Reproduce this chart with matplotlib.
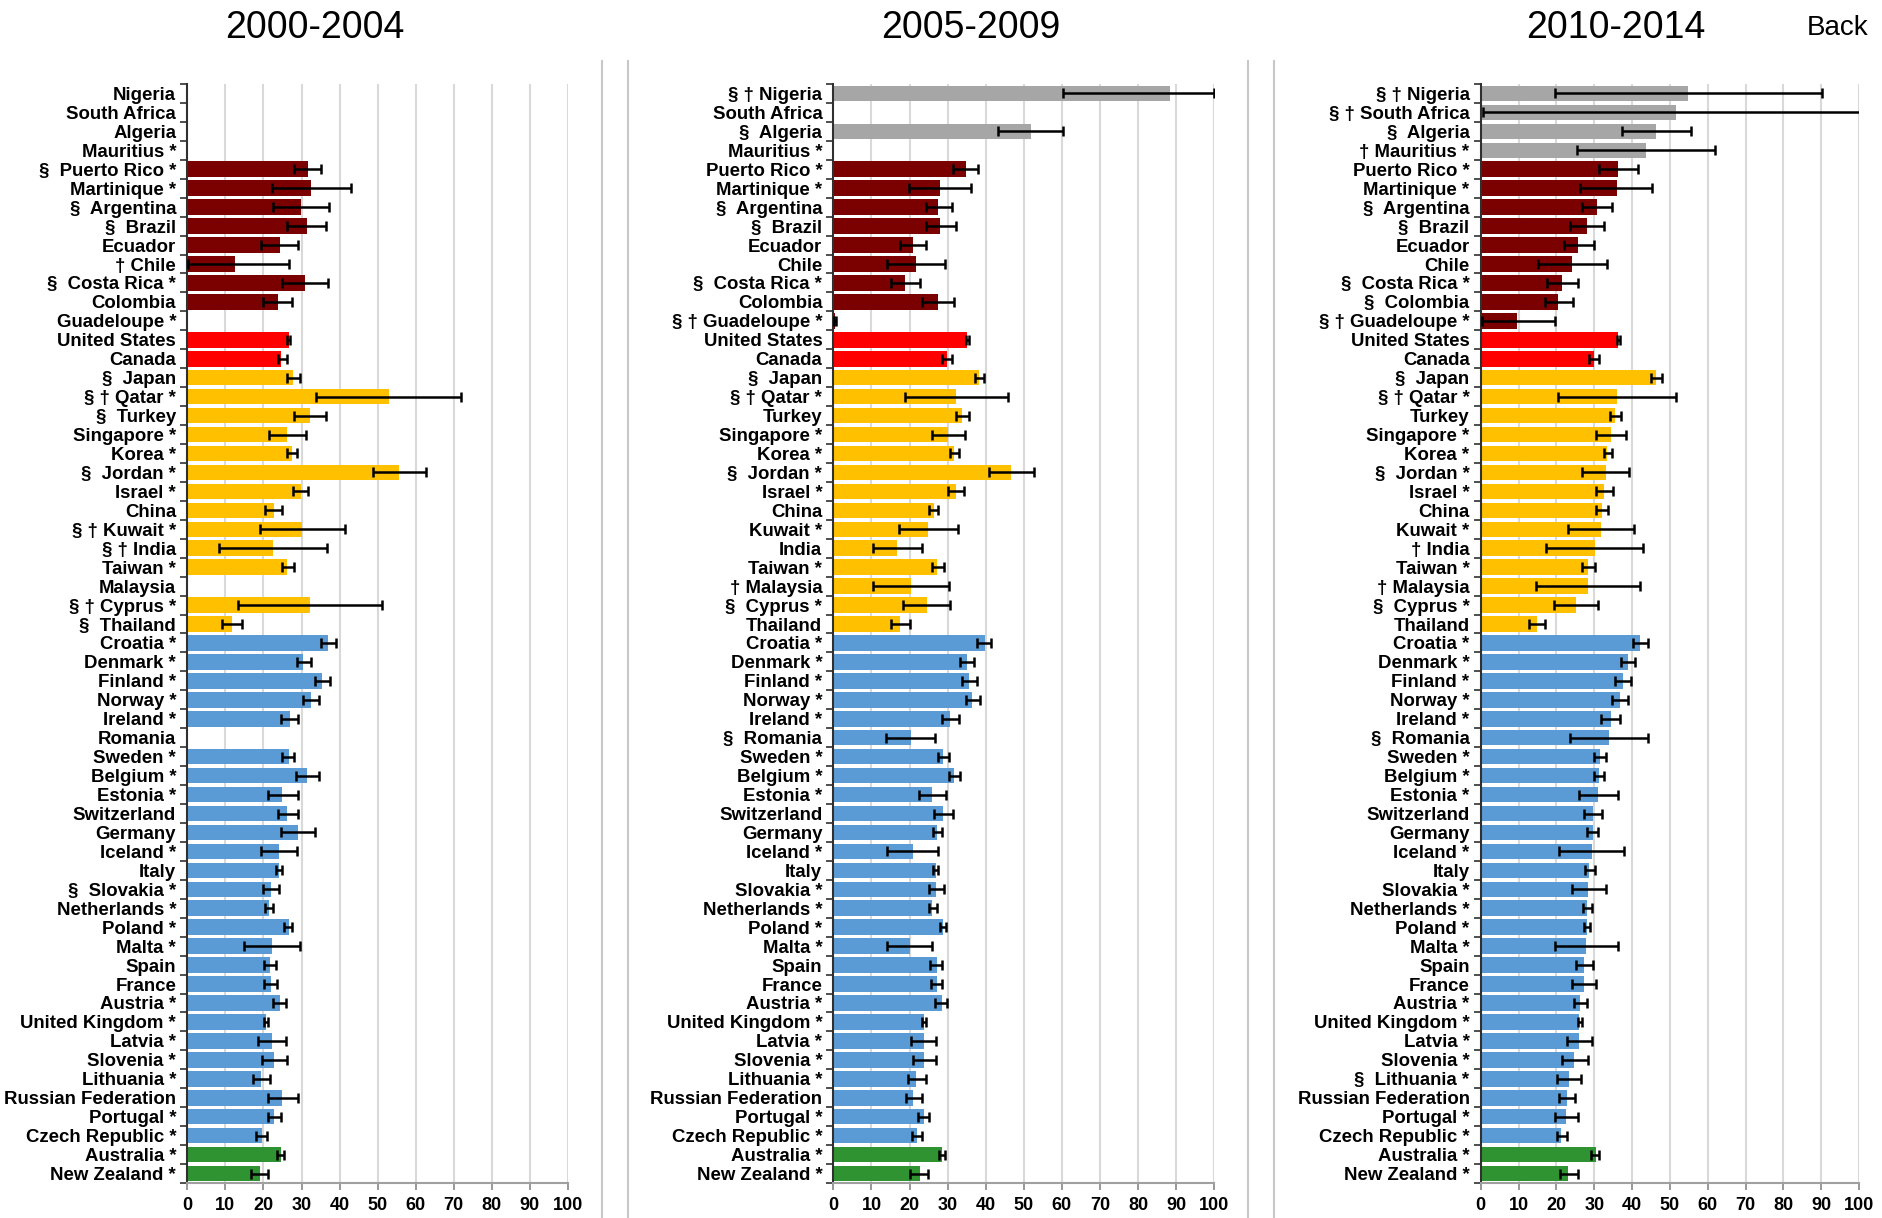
import numpy as np
import matplotlib
matplotlib.use("Agg")
import matplotlib.pyplot as plt
from matplotlib.lines import Line2D

nan = np.nan

labels_2000 = ["Nigeria", "South Africa", "Algeria", "Mauritius *", "§  Puerto Rico *", "Martinique *",
               "§  Argentina", "§  Brazil", "Ecuador", "† Chile", "§  Costa Rica *", "Colombia",
               "Guadeloupe *", "United States", "Canada", "§  Japan", "§ † Qatar *", "§  Turkey",
               "Singapore *", "Korea *", "§  Jordan *", "Israel *", "China", "§ † Kuwait *", "§ † India",
               "Taiwan *", "Malaysia", "§ † Cyprus *", "§  Thailand", "Croatia *", "Denmark *",
               "Finland *", "Norway *", "Ireland *", "Romania", "Sweden *", "Belgium *", "Estonia *",
               "Switzerland", "Germany", "Iceland *", "Italy", "§  Slovakia *", "Netherlands *",
               "Poland *", "Malta *", "Spain", "France", "Austria *", "United Kingdom *", "Latvia *",
               "Slovenia *", "Lithuania *", "Russian Federation", "Portugal *", "Czech Republic *",
               "Australia *", "New Zealand *"]

labels_2005 = ["§ † Nigeria", "South Africa", "§  Algeria", "Mauritius *", "Puerto Rico *", "Martinique *",
               "§  Argentina", "§  Brazil", "Ecuador", "Chile", "§  Costa Rica *", "Colombia",
               "§ † Guadeloupe *", "United States", "Canada", "§  Japan", "§ † Qatar *", "Turkey",
               "Singapore *", "Korea *", "§  Jordan *", "Israel *", "China", "Kuwait *", "India",
               "Taiwan *", "† Malaysia", "§  Cyprus *", "Thailand", "Croatia *", "Denmark *",
               "Finland *", "Norway *", "Ireland *", "§  Romania", "Sweden *", "Belgium *", "Estonia *",
               "Switzerland", "Germany", "Iceland *", "Italy", "Slovakia *", "Netherlands *",
               "Poland *", "Malta *", "Spain", "France", "Austria *", "United Kingdom *", "Latvia *",
               "Slovenia *", "Lithuania *", "Russian Federation", "Portugal *", "Czech Republic *",
               "Australia *", "New Zealand *"]

labels_2010 = ["§ † Nigeria", "§ † South Africa", "§  Algeria", "† Mauritius *", "Puerto Rico *", "Martinique *",
               "§  Argentina", "§  Brazil", "Ecuador", "Chile", "§  Costa Rica *", "§  Colombia",
               "§ † Guadeloupe *", "United States", "Canada", "§  Japan", "§ † Qatar *", "Turkey",
               "Singapore *", "Korea *", "§  Jordan *", "Israel *", "China", "Kuwait *", "† India",
               "Taiwan *", "† Malaysia", "§  Cyprus *", "Thailand", "Croatia *", "Denmark *",
               "Finland *", "Norway *", "Ireland *", "§  Romania", "Sweden *", "Belgium *", "Estonia *",
               "Switzerland", "Germany", "Iceland *", "Italy", "Slovakia *", "Netherlands *",
               "Poland *", "Malta *", "Spain", "France", "Austria *", "United Kingdom *", "Latvia *",
               "Slovenia *", "§  Lithuania *", "Russian Federation", "Portugal *", "Czech Republic *",
               "Australia *", "New Zealand *"]

# region of each row
regions = (["Africa"] * 4 + ["Latin America"] * 9 + ["North America"] * 2 +
           ["Asia"] * 14 + ["Europe"] * 27 + ["Oceania"] * 2)

val_2000 = [nan, nan, nan, nan, 31.8, 32.6, 29.8, 31.4, 24.3, 12.5, 30.9, 23.8, nan, 26.7, 24.7,
            27.8, 52.9, 32.2, 26.1, 27.6, 55.6, 29.9, 22.7, 30.2, 22.5, 26.3, nan, 32.2, 11.8,
            36.9, 30.4, 35.3, 32.4, 27.0, nan, 26.6, 31.5, 25.0, 26.3, 29.1, 24.0, 24.0, 22.1,
            21.5, 26.6, 22.3, 21.7, 21.9, 24.4, 20.7, 22.3, 22.9, 19.3, 25.0, 22.9, 19.5, 24.5, 19.1]
lo_2000 = [nan, nan, nan, nan, 28.0, 22.3, 22.5, 26.3, 19.4, 0.3, 25.0, 19.9, nan, 26.3, 23.7,
           26.3, 33.8, 28.0, 21.5, 26.3, 48.8, 27.7, 20.5, 19.1, 8.2, 24.8, nan, 13.4, 9.1,
           35.0, 28.8, 33.5, 30.5, 24.7, nan, 25.0, 28.6, 21.2, 23.9, 24.7, 19.4, 23.2, 19.9,
           20.5, 25.5, 15.0, 20.2, 20.2, 22.5, 20.1, 18.7, 19.7, 17.2, 21.3, 21.3, 18.1, 23.5, 16.7]
hi_2000 = [nan, nan, nan, nan, 35.2, 43.0, 37.2, 36.5, 29.0, 26.6, 36.9, 27.6, nan, 27.1, 26.1,
           29.5, 72.0, 36.5, 31.2, 28.9, 62.6, 31.8, 25.0, 41.5, 36.6, 28.1, nan, 51.1, 14.4,
           39.0, 32.4, 37.5, 34.6, 29.1, nan, 28.1, 34.6, 29.2, 29.0, 33.6, 28.8, 25.0, 24.1,
           22.5, 27.6, 29.5, 23.2, 23.5, 26.0, 21.2, 25.8, 26.1, 21.6, 29.1, 24.5, 21.0, 25.4, 21.2]

val_2005 = [88.5, nan, 51.8, nan, 34.8, 28.1, 27.6, 28.1, 20.8, 21.6, 18.9, 27.4, 0.4, 35.1, 29.8,
            38.3, 32.3, 33.8, 30.1, 31.7, 46.7, 32.1, 26.3, 24.8, 16.6, 27.3, 20.3, 24.6, 17.5,
            39.8, 35.0, 35.7, 36.5, 30.7, 20.3, 28.9, 31.7, 25.9, 28.9, 27.2, 21.0, 26.9, 26.9,
            26.0, 28.9, 20.0, 27.1, 27.1, 28.4, 23.8, 23.8, 23.9, 21.8, 21.0, 23.8, 22.0, 28.6, 22.7]
lo_2005 = [60.2, nan, 43.3, nan, 31.5, 19.8, 24.3, 24.3, 17.4, 14.2, 15.0, 23.4, 0.1, 34.7, 28.5,
           37.2, 18.9, 32.2, 25.9, 30.5, 40.8, 30.2, 25.1, 17.2, 10.3, 25.9, 10.5, 18.4, 15.0,
           37.7, 33.3, 33.8, 34.7, 28.5, 13.9, 27.4, 30.4, 22.5, 26.5, 26.2, 14.1, 26.2, 25.0,
           25.0, 28.1, 14.0, 25.5, 25.7, 26.7, 23.2, 20.5, 21.0, 19.5, 19.1, 22.3, 20.6, 27.7, 20.2]
hi_2005 = [99.9, nan, 60.3, nan, 37.9, 36.2, 31.1, 32.1, 24.2, 29.2, 22.8, 31.6, 0.8, 35.5, 31.1,
           39.6, 45.8, 35.5, 34.6, 32.9, 52.6, 34.4, 27.6, 32.6, 23.2, 29.1, 30.3, 30.6, 20.1,
           41.5, 36.9, 37.6, 38.5, 32.9, 26.7, 30.3, 33.2, 29.5, 31.4, 28.4, 27.6, 27.6, 29.0,
           27.3, 29.6, 26.0, 28.6, 28.6, 29.9, 24.4, 26.9, 26.9, 24.4, 23.2, 25.1, 23.4, 29.4, 24.9]

val_2010 = [54.8, 51.5, 46.4, 43.6, 36.3, 35.9, 30.7, 28.2, 25.8, 24.1, 21.5, 20.5, 9.5, 36.4, 30.0,
            46.4, 36.0, 35.4, 34.4, 33.5, 33.0, 32.7, 32.0, 31.9, 30.2, 28.4, 28.4, 25.3, 14.8,
            42.1, 39.0, 37.7, 36.8, 34.4, 34.0, 31.6, 31.3, 31.0, 29.8, 29.8, 29.3, 28.7, 28.4,
            28.1, 28.1, 27.9, 27.3, 27.3, 26.2, 26.1, 25.9, 24.7, 23.4, 22.8, 22.5, 21.3, 30.4, 23.2]
lo_2010 = [19.7, 0.5, 37.4, 25.5, 31.3, 26.3, 26.8, 23.5, 21.9, 15.2, 17.4, 17.0, 0.3, 36.1, 28.6,
           44.9, 20.4, 34.1, 30.6, 32.5, 26.7, 30.6, 30.6, 23.1, 17.3, 26.7, 14.5, 19.4, 12.7,
           40.2, 37.2, 35.5, 34.8, 31.9, 23.7, 30.0, 29.9, 26.1, 27.4, 28.2, 20.7, 27.6, 24.2,
           27.1, 27.4, 19.6, 25.1, 24.2, 24.6, 25.6, 22.7, 21.5, 20.3, 20.7, 19.6, 20.1, 29.1, 20.9]
hi_2010 = [90.2, 104.0, 55.7, 62.0, 41.6, 45.2, 34.8, 32.7, 29.9, 33.4, 25.6, 24.5, 19.6, 36.8, 31.2,
           47.9, 51.7, 37.1, 38.3, 34.8, 39.2, 35.1, 33.6, 40.4, 42.9, 30.2, 42.2, 31.1, 17.1,
           44.2, 40.7, 39.6, 38.9, 36.9, 44.3, 33.2, 32.7, 36.2, 32.1, 31.1, 37.8, 30.2, 33.1,
           29.4, 28.9, 36.2, 29.7, 30.5, 28.0, 26.8, 29.4, 28.3, 26.4, 25.0, 25.7, 22.8, 31.4, 25.6]

periods = ["2000-2004", "2005-2009", "2010-2014"]
x_ticks = [0, 10, 20, 30, 40, 50, 60, 70, 80, 90, 100]

region_colors = {"Africa": "#A6A6A6", "Latin America": "#7B0000", "North America": "#FF0000",
                 "Asia": "#FFC000", "Europe": "#5B9BD5", "Oceania": "#2E9330"}

plt.rcParams['font.family'] = ['Liberation Sans', 'DejaVu Sans']

W, H = 1883, 1218
fig = plt.figure(figsize=(W / 100, H / 100), dpi=100)

# axes placement in pixels (left, right)
ax_px = [(187.3, 568.0), (833.4, 1214.1), (1480.7, 1859.0)]
top_px, bot_px = 84, 1183
title_cx = [315, 971, 1616]

datasets = [(labels_2000, val_2000, lo_2000, hi_2000),
            (labels_2005, val_2005, lo_2005, hi_2005),
            (labels_2010, val_2010, lo_2010, hi_2010)]

n = len(regions)
ypos = np.arange(n)
colors = [region_colors[r] for r in regions]

for i, ((l, r), (labs, vals, los, his)) in enumerate(zip(ax_px, datasets)):
    ax = fig.add_axes([l / W, 1 - bot_px / H, (r - l) / W, (bot_px - top_px) / H])
    vals = np.array(vals, dtype=float)
    los = np.array(los, dtype=float)
    his = np.array(his, dtype=float)
    mask = ~np.isnan(vals)
    ax.barh(ypos[mask], vals[mask], height=0.82, color=np.array(colors)[mask], zorder=2)
    xerr = np.vstack([vals[mask] - los[mask], his[mask] - vals[mask]])
    ax.errorbar(vals[mask], ypos[mask], xerr=xerr, fmt='none', ecolor='black',
                elinewidth=1.8, capsize=3.4, capthick=1.8, zorder=3)
    ax.set_xlim(0, 100)
    ax.set_ylim(n - 0.5, -0.5)
    ax.set_xticks(x_ticks)
    ax.set_xticklabels([str(t) for t in x_ticks], fontsize=13, fontweight='bold')
    ax.set_yticks(ypos)
    ax.set_yticklabels(labs, fontsize=13.4, fontweight='bold')
    ax.tick_params(axis='y', which='major', length=0, pad=8)
    ax.set_yticks(np.arange(-0.5, n, 1.0), minor=True)
    ax.tick_params(axis='y', which='minor', length=5, width=1.3, color='#404040')
    ax.tick_params(axis='x', which='major', length=5, width=1.3, color='#909090', pad=5)
    for gx in x_ticks[1:]:
        ax.axvline(gx, color='#D9D9D9', lw=1.5, zorder=0)
    for s in ['top', 'right']:
        ax.spines[s].set_visible(False)
    ax.spines['left'].set_color('#303030')
    ax.spines['left'].set_linewidth(1.5)
    ax.spines['bottom'].set_color('#A0A0A0')
    ax.spines['bottom'].set_linewidth(1.5)
    fig.text(title_cx[i] / W, 1 - 28 / H, periods[i], ha='center', va='center', fontsize=27)

fig.text(1838 / W, 1 - 28 / H, "Back", ha='center', va='center', fontsize=20)

for sx in [602, 628, 1248, 1274]:
    fig.add_artist(Line2D([sx / W, sx / W], [0, 1 - 61 / H], color='#C8C8C8', lw=1.5))

fig.savefig("out.png", dpi=100, facecolor='white')
